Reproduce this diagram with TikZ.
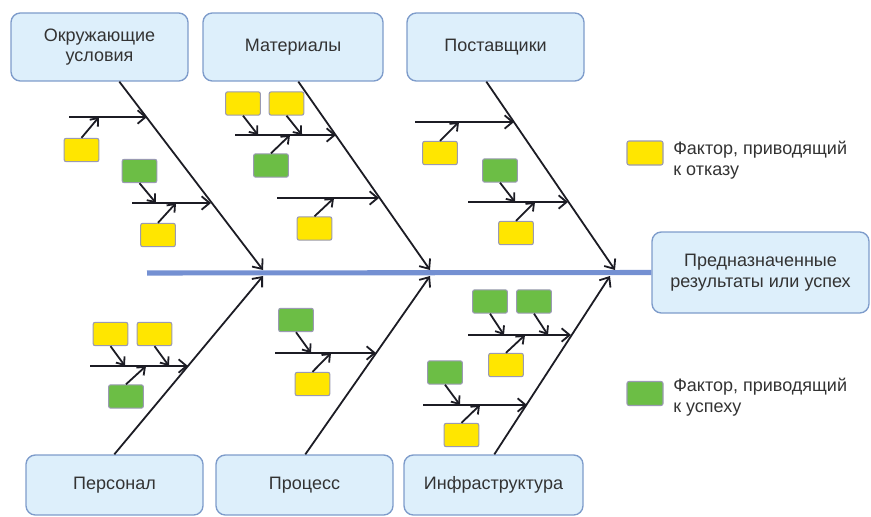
\documentclass[tikz,border=0pt]{standalone}
\usepackage{fontspec}
\setmainfont{Liberation Sans}
\usetikzlibrary{arrows.meta,calc}

\definecolor{catfill}{HTML}{DDEFFB}
\definecolor{catedge}{HTML}{7E9CCB}
\definecolor{spinecol}{HTML}{7490D2}
\definecolor{failfill}{HTML}{FFE600}
\definecolor{okfill}{HTML}{6CBE45}
\definecolor{smalledge}{HTML}{9A9AB2}
\definecolor{ink}{HTML}{1C1C24}
\definecolor{txt}{HTML}{333333}

% one small factor box with its arrow onto a branch
% #1 name, #2 style, #3 centre, #4 anchor the arrow leaves from, #5 tip on the branch
\newcommand\factorbox[5]{%
  \node[#2] (#1) at (#3) {};
  \coordinate (#1-tip) at (#5);
  \draw[subarrow] (#1.#4) -- (#1-tip);
}

\begin{document}
\begin{tikzpicture}[
  x=0.75pt, y=-0.75pt,
  catbox/.style={draw=catedge, line width=1pt, fill=catfill, rounded corners=7pt,
    align=center, text=txt, inner sep=0pt,
    font=\fontsize{13.5}{15.5}\selectfont},
  failbox/.style={draw=smalledge, line width=0.8pt, fill=failfill, rounded corners=1.5pt,
    minimum width=26pt, minimum height=17.5pt, inner sep=0pt},
  okbox/.style={failbox, fill=okfill},
  bone/.style={draw=ink, line width=1.35pt, -{Straight Barb[length=6pt,width=10pt,line width=1.35pt]}},
  subarrow/.style={draw=ink, line width=1.35pt, -{Straight Barb[length=5pt,width=8pt,line width=1.35pt]}},
  spine/.style={draw=spinecol, line width=3.8pt},
  legendtext/.style={anchor=west, align=left, text=txt, inner sep=0pt,
    font=\fontsize{13.5}{15.5}\selectfont},
]
\useasboundingbox (0,0) rectangle (871,517);

% category boxes
\node[catbox, minimum width=132.75pt, minimum height=51pt] (env)   at (99.5,47)  {Окружающие\\условия};
\node[catbox, minimum width=135pt,    minimum height=51pt] (mat)   at (293,47)   {Материалы};
\node[catbox, minimum width=132.75pt, minimum height=51pt] (sup)   at (495.5,47) {Поставщики};
\node[catbox, minimum width=132.75pt, minimum height=45pt] (pers)  at (114.5,485) {Персонал};
\node[catbox, minimum width=132.75pt, minimum height=45pt] (proc)  at (304.5,485) {Процесс};
\node[catbox, minimum width=134.25pt, minimum height=45pt] (infra) at (493.5,485) {Инфраструктура};
\node[catbox, minimum width=162.75pt, minimum height=60.75pt] (goal) at (760.5,272.5) {Предназначенные\\результаты или успех};

% spine
\coordinate (tail) at (147,273);
\draw[spine] (tail) -- (goal.west);

% main bones
\coordinate (t1e) at (263,270);
\coordinate (t2e) at (430,270);
\coordinate (t3e) at (615,270);
\coordinate (b1e) at (263,276);
\coordinate (b2e) at (430,276);
\coordinate (b3e) at (610,276);
\draw[bone] ($(env.south west)+(109,0)$) -- (t1e);
\draw[bone] ($(mat.south west)+(96,0)$)  -- (t2e);
\draw[bone] ($(sup.south west)+(80,0)$)  -- (t3e);
\draw[bone] ($(pers.north west)+(89,0)$)  -- (b1e);
\draw[bone] ($(proc.north west)+(90,0)$)  -- (b2e);
\draw[bone] ($(infra.north west)+(91,0)$) -- (b3e);

% branches onto the bones
\foreach \nm/\xa/\xb/\yy in {
  ta/69/147/117, tb/132/211/203,
  ma/235/336/135, mb/277/379/198,
  sa/415/514/122, sb/468/568/202,
  pa/90/188/366,
  ca/275/376/353,
  ia/468/571/335, ib/423/527/405}{
  \coordinate (\nm-s) at (\xa,\yy);
  \coordinate (\nm-e) at (\xb,\yy);
  \draw[bone] (\nm-s) -- (\nm-e);
}

% factors: environment
\factorbox{f1}{failbox}{81.5,150}{north}{99,117}
\factorbox{f2}{okbox}{139.5,171}{south}{156,203}
\factorbox{f3}{failbox}{158,235}{north}{176,203}
% factors: materials
\factorbox{f4}{failbox}{243,103.5}{south}{258,135}
\factorbox{f5}{failbox}{286.5,103.5}{south}{302,135}
\factorbox{f6}{okbox}{271,165.5}{north}{290,135}
\factorbox{f7}{failbox}{314.5,228.5}{north}{334,198}
% factors: suppliers
\factorbox{f8}{failbox}{440,153}{north}{459,122}
\factorbox{f9}{okbox}{500,170.5}{south}{515,202}
\factorbox{f10}{failbox}{516,233}{north}{535,202}
% factors: staff
\factorbox{f11}{failbox}{110.5,334}{south}{125,366}
\factorbox{f12}{failbox}{154.5,334}{south}{169,366}
\factorbox{f13}{okbox}{126,396.5}{north}{146,366}
% factors: process
\factorbox{f14}{okbox}{296,320}{south}{311,353}
\factorbox{f15}{failbox}{312.5,384}{north}{331,353}
% factors: infrastructure
\factorbox{f16}{okbox}{490,301.5}{south}{504,335}
\factorbox{f17}{okbox}{534,301.5}{south}{548,335}
\factorbox{f18}{failbox}{506,365}{north}{525,335}
\factorbox{f19}{okbox}{445,372.5}{south}{460,405}
\factorbox{f20}{failbox}{461.5,435}{north}{480,405}

% legend
\node[failbox, minimum width=27pt, minimum height=18pt] (lgfail) at (645,153) {};
\node[legendtext] (lgfailtxt) at (673,160) {Фактор, приводящий\\к отказу};
\node[okbox, minimum width=27pt, minimum height=18pt] (lgok) at (645,393.5) {};
\node[legendtext] (lgoktxt) at (673,397) {Фактор, приводящий\\к успеху};
\end{tikzpicture}
\end{document}
